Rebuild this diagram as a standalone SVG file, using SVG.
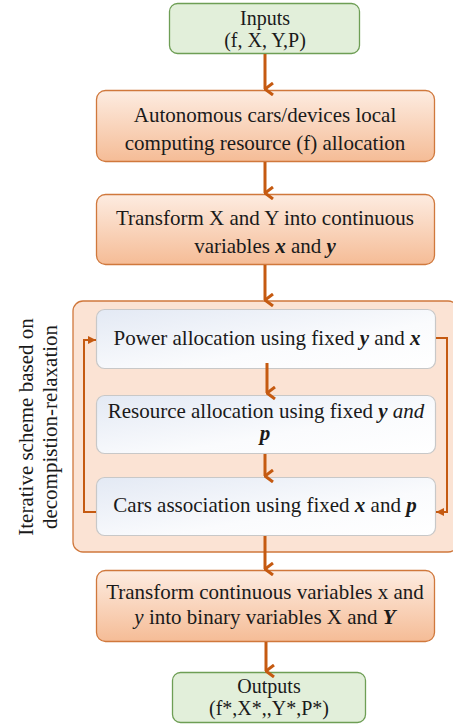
<svg xmlns="http://www.w3.org/2000/svg" width="453" height="725" viewBox="0 0 453 725">
  <defs>
    <linearGradient id="orangeFill" x1="0" y1="0" x2="0" y2="1">
      <stop offset="0" stop-color="#FDECE1"/>
      <stop offset="1" stop-color="#F5BC96"/>
    </linearGradient>
    <linearGradient id="stepFill" x1="0" y1="0" x2="1" y2="1">
      <stop offset="0" stop-color="#E3E9F4"/>
      <stop offset="0.6" stop-color="#FAFBFD"/>
      <stop offset="1" stop-color="#FFFFFF"/>
    </linearGradient>
    <marker id="chev" viewBox="0 0 14 10" refX="7" refY="9" markerWidth="14" markerHeight="10" markerUnits="userSpaceOnUse" orient="auto-start-reverse">
      <path d="M1,1 L7,9 L13,1" fill="none" stroke="#C55A11" stroke-width="3"/>
    </marker>
    <marker id="tip" viewBox="0 0 8 8" refX="8" refY="4" markerWidth="8" markerHeight="8" markerUnits="userSpaceOnUse" orient="auto">
      <path d="M0,0 L8,4 L0,8 Z" fill="#C55A11"/>
    </marker>
  </defs>
  <style>
    text { font-family: "Liberation Serif", "Times New Roman", serif; font-size: 21px; fill: #1a1a1a; text-anchor: middle; }
    .small { font-size: 20px; }
    .bi { font-weight: bold; font-style: italic; }
    .it { font-style: italic; }
    .green { fill: #E2EFDA; stroke: #6E9E55; stroke-width: 1.3; }
    .orange { fill: url(#orangeFill); stroke: #D0783C; stroke-width: 1.3; }
    .step { fill: url(#stepFill); stroke: #C8C8C8; stroke-width: 1.2; }
    .frame { fill: #FBE3D4; stroke: #D0783C; stroke-width: 1.3; }
    .flow { fill: none; stroke: #C55A11; stroke-width: 3; marker-end: url(#chev); }
    .loop { fill: none; stroke: #C55A11; stroke-width: 2; marker-end: url(#tip); }
  </style>

  <g id="iteration-frame">
    <rect class="frame" x="73" y="301" width="385" height="251" rx="10"/>
    <text transform="translate(33,427) rotate(-90)">Iterative scheme based on</text>
    <text transform="translate(57,427) rotate(-90)">decompistion-relaxation</text>
  </g>

  <g id="inputs">
    <rect class="green" x="169.5" y="3.5" width="190" height="50" rx="8"/>
    <text class="small" x="265" y="25">Inputs</text>
    <text class="small" x="265" y="47">(f, X, Y,P)</text>
  </g>

  <g id="local-allocation">
    <rect class="orange" x="96.5" y="90.5" width="338" height="71" rx="9"/>
    <text x="265" y="122">Autonomous cars/devices local</text>
    <text x="265" y="150">computing resource (f) allocation</text>
  </g>

  <g id="relaxation">
    <rect class="orange" x="96.5" y="194.5" width="338" height="70" rx="9"/>
    <text x="265" y="225">Transform X and Y into continuous</text>
    <text x="265" y="253">variables <tspan class="bi">x</tspan> and <tspan class="bi">y</tspan></text>
  </g>

  <g id="power-allocation">
    <rect class="step" x="96.5" y="309.5" width="339" height="59" rx="8"/>
    <text x="267" y="345">Power allocation using fixed  <tspan class="bi">y</tspan> and <tspan class="bi">x</tspan></text>
  </g>

  <g id="resource-allocation">
    <rect class="step" x="96.5" y="395.5" width="339" height="58" rx="8"/>
    <text x="266" y="418">Resource allocation using fixed <tspan class="bi">y</tspan> <tspan class="it">and</tspan></text>
    <text x="265" y="440" class="bi">p</text>
  </g>

  <g id="cars-association">
    <rect class="step" x="96.5" y="477.5" width="339" height="58" rx="8"/>
    <text x="265" y="512">Cars association using fixed <tspan class="bi">x</tspan> and <tspan class="bi">p</tspan></text>
  </g>

  <g id="binarization">
    <rect class="orange" x="96.5" y="570.5" width="338" height="71" rx="9"/>
    <text x="265" y="599">Transform continuous variables x and</text>
    <text x="265" y="624"><tspan class="it">y</tspan> into binary variables X and <tspan class="bi">Y</tspan></text>
  </g>

  <g id="outputs">
    <rect class="green" x="172.5" y="672.5" width="193" height="50" rx="8"/>
    <text class="small" x="269" y="693">Outputs</text>
    <text class="small" x="269" y="715">(f*,X*,,Y*,P*)</text>
  </g>

  <g id="connectors">
    <line class="flow" x1="265" y1="54" x2="265" y2="89"/>
    <line class="flow" x1="265" y1="162" x2="265" y2="193"/>
    <line class="flow" x1="265" y1="265" x2="265" y2="300"/>
    <line class="flow" x1="267" y1="363" x2="267" y2="393"/>
    <line class="flow" x1="265" y1="454" x2="265" y2="476"/>
    <line class="flow" x1="265" y1="536" x2="265" y2="569"/>
    <line class="flow" x1="266" y1="642" x2="266" y2="671"/>
    <polyline class="loop" points="96,512 84,512 84,340 96,340"/>
    <polyline class="loop" points="436,338 447,338 447,512 436,512"/>
  </g>
</svg>
